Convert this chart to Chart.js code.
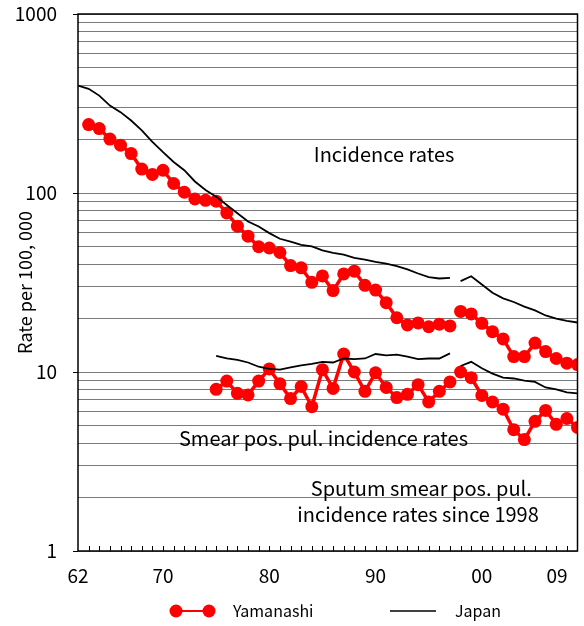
<!DOCTYPE html>
<html>
<head>
<meta charset="utf-8">
<script src="https://cdn.jsdelivr.net/npm/chart.js@4/dist/chart.umd.min.js"></script>
<style>
  html, body { margin: 0; padding: 0; background: #fff; }
  #wrap { width: 584px; height: 626px; }
</style>
</head>
<body>
<div id="wrap"><canvas id="grafico_tb"></canvas></div>
<script>
// years on the x axis, 1962-2009
const years = [1962, 1963, 1964, 1965, 1966, 1967, 1968, 1969, 1970, 1971, 1972, 1973,
  1974, 1975, 1976, 1977, 1978, 1979, 1980, 1981, 1982, 1983, 1984, 1985, 1986, 1987,
  1988, 1989, 1990, 1991, 1992, 1993, 1994, 1995, 1996, 1997, 1998, 1999, 2000, 2001,
  2002, 2003, 2004, 2005, 2006, 2007, 2008, 2009];

const japan_incidence = [398, 382, 350, 308, 283, 254, 224, 193, 169, 149, 134, 116,
  104, 95.4, 85.7, 77.1, 69.3, 65, 59.7, 55.5, 53.5, 51.3, 50.3, 47.8, 46.3, 45.3,
  43.4, 42.5, 41.2, 40.3, 39, 37.4, 35.5, 33.9, 33.3, 33.6, 32.2, 34.3, 30.8, 27.7,
  25.8, 24.6, 23.2, 22.1, 20.7, 19.9, 19.3, 18.9];

const yamanashi_incidence = [null, 241, 229, 200, 185, 166, 136, 127, 134, 113, 101, 92.6,
  91, 90, 77.4, 65.3, 57.4, 50.1, 49.3, 46.5, 39.3, 38.2, 31.7, 34.4, 28.5, 35.3,
  36.6, 30.5, 28.7, 24.4, 20.1, 18.3, 18.8, 17.9, 18.5, 18.1, 21.8, 21.1, 18.7, 16.8,
  15.3, 12.2, 12.2, 14.5, 13.0, 11.9, 11.2, 11.0];

const japan_smear = [null, null, null, null, null, null, null, null, null, null, null, null,
  null, 12.3, 11.9, 11.7, 11.3, 10.7, 10.4, 10.3, 10.6, 10.9, 11.1, 11.4, 11.3, 11.9,
  11.8, 11.9, 12.6, 12.4, 12.5, 12.2, 11.8, 11.9, 11.9, 12.7, 10.8, 11.4, 10.5, 9.8,
  9.3, 9.2, 8.95, 8.8, 8.2, 8.0, 7.7, 7.6];

const yamanashi_smear = [null, null, null, null, null, null, null, null, null, null, null, null,
  null, 8.0, 8.9, 7.6, 7.45, 8.9, 10.4, 8.6, 7.1, 8.3, 6.4, 10.3, 8.1, 12.6,
  10.0, 7.8, 9.9, 8.2, 7.2, 7.5, 8.5, 6.8, 7.8, 8.8, 10.0, 9.3, 7.4, 6.8,
  6.2, 4.76, 4.19, 5.3, 6.1, 5.1, 5.5, 4.9];

// definition changed in 1998: lines are broken there
const break_year = 1997.5;

const x_tick_years = [1962, 1970, 1980, 1990, 2000, 2009];
const x_tick_labels = ['62', '70', '80', '90', '00', '09'];
const y_ticks = [1, 2, 3, 4, 5, 6, 7, 8, 9, 10, 20, 30, 40, 50, 60, 70, 80, 90,
  100, 200, 300, 400, 500, 600, 700, 800, 900, 1000];

const red = '#ff0000';
const black = '#000000';
const jpFont = "'Noto Sans CJK JP', 'Noto Sans', sans-serif";

function pontos(valores) {
  return years.map((ano, i) => ({ x: ano, y: valores[i] }));
}

function quebra(cor) {
  return ctx => (ctx.p0.parsed.x < break_year && ctx.p1.parsed.x > break_year) ? 'transparent' : cor;
}

const textos = [
  { text: 'Incidence rates', x: 1990.8, y: 165 },
  { text: 'Smear pos. pul. incidence rates', x: 1985.1, y: 4.24 },
  { text: 'Sputum smear pos. pul.', x: 1994.3, y: 2.24 },
  { text: 'incidence rates since 1998', x: 1994.0, y: 1.6 }
];

const extras = {
  id: 'extras',
  afterDraw(chart) {
    const c = chart.ctx;
    const area = chart.chartArea;
    const xs = chart.scales.x;
    const ys = chart.scales.y;
    c.save();
    // frame
    c.strokeStyle = black;
    c.lineWidth = 1.5;
    c.strokeRect(area.left, area.top, area.right - area.left, area.bottom - area.top);
    // small inner ticks on the bottom axis
    c.lineWidth = 1;
    for (let a = years[0] + 1; a < years[years.length - 1]; a++) {
      const px = Math.round(xs.getPixelForValue(a)) + 0.5;
      c.beginPath();
      c.moveTo(px, area.bottom);
      c.lineTo(px, area.bottom - 5);
      c.stroke();
    }
    // x labels
    c.fillStyle = black;
    c.font = '19px ' + jpFont;
    c.textBaseline = 'middle';
    c.textAlign = 'center';
    x_tick_years.forEach((a, i) => {
      let px = xs.getPixelForValue(a);
      const w = c.measureText(x_tick_labels[i]).width;
      px = Math.min(px, area.right - w / 2 - 10);
      c.fillText(x_tick_labels[i], px, area.bottom + 25);
    });
    // annotations
    c.font = '20px ' + jpFont;
    textos.forEach(t => {
      c.fillText(t.text, xs.getPixelForValue(t.x), ys.getPixelForValue(t.y));
    });
    // y title
    c.save();
    c.translate(25, (area.top + area.bottom) / 2);
    c.rotate(-Math.PI / 2);
    c.font = '18px ' + jpFont;
    c.fillText('Rate per 100, 000', 0, 0);
    c.restore();
    // legend
    const ly = 611;
    c.strokeStyle = red;
    c.lineWidth = 2;
    c.beginPath(); c.moveTo(176, ly); c.lineTo(209, ly); c.stroke();
    c.fillStyle = red;
    [176, 209].forEach(px => { c.beginPath(); c.arc(px, ly, 6.5, 0, Math.PI * 2); c.fill(); });
    c.strokeStyle = black;
    c.lineWidth = 1.5;
    c.beginPath(); c.moveTo(390, ly); c.lineTo(436, ly); c.stroke();
    c.fillStyle = black;
    c.textAlign = 'left';
    c.font = '16px ' + jpFont;
    c.fillText('Yamanashi', 233, ly);
    c.fillText('Japan', 455, ly);
    c.restore();
  }
};

const ctx = document.getElementById('grafico_tb').getContext('2d');

new Chart(ctx, {
  type: 'line',
  data: {
    datasets: [
      {
        label: 'Japan',
        data: pontos(japan_incidence),
        borderColor: black,
        borderWidth: 1.8,
        pointRadius: 0,
        segment: { borderColor: quebra(black) }
      },
      {
        label: 'Japan smear',
        data: pontos(japan_smear),
        borderColor: black,
        borderWidth: 1.8,
        pointRadius: 0,
        segment: { borderColor: quebra(black) }
      },
      {
        label: 'Yamanashi',
        data: pontos(yamanashi_incidence),
        borderColor: red,
        backgroundColor: red,
        borderWidth: 3.5,
        pointRadius: 6.5,
        pointBorderWidth: 0,
        segment: { borderColor: quebra(red) }
      },
      {
        label: 'Yamanashi smear',
        data: pontos(yamanashi_smear),
        borderColor: red,
        backgroundColor: red,
        borderWidth: 3.5,
        pointRadius: 6.5,
        pointBorderWidth: 0,
        segment: { borderColor: quebra(red) }
      }
    ]
  },
  options: {
    responsive: true,
    maintainAspectRatio: false,
    animation: false,
    events: [],
    layout: { padding: { top: 14, right: -3, left: 0, bottom: 0 } },
    scales: {
      x: {
        type: 'linear',
        min: 1962,
        max: 2009,
        ticks: { display: false },
        grid: { display: false },
        border: { display: false },
        afterFit(scale) {
          scale.height = 75;
          scale.paddingLeft = 0;
          scale.paddingRight = 0;
        }
      },
      y: {
        type: 'logarithmic',
        min: 1,
        max: 1000,
        afterBuildTicks(scale) { scale.ticks = y_ticks.map(v => ({ value: v })); },
        afterFit(scale) {
          scale.width = 78;
          scale.paddingTop = 0;
          scale.paddingBottom = 0;
        },
        ticks: {
          autoSkip: false,
          padding: 16,
          color: black,
          font: { family: jpFont, size: 19 },
          callback: v => ([1, 10, 100, 1000].includes(v) ? String(v) : '')
        },
        grid: {
          color: '#7a7a7a',
          lineWidth: 1,
          tickLength: 5,
          tickColor: ctx => ([1, 10, 100, 1000].includes(ctx.tick.value) ? black : 'transparent')
        },
        border: { display: false }
      }
    },
    plugins: {
      legend: { display: false },
      tooltip: { enabled: false }
    }
  },
  plugins: [extras]
});
</script>
</body>
</html>
